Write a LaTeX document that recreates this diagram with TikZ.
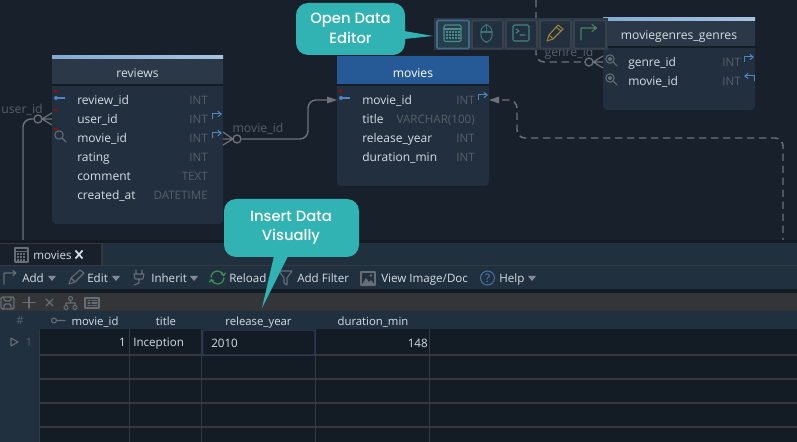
\documentclass[tikz,border=0pt]{standalone}
\usepackage{fontspec}
\setmainfont{Open Sans}
\newfontfamily\callfont{Poppins Medium}
\usetikzlibrary{arrows.meta,calc}
\definecolor{bgc}{HTML}{18212B}
\definecolor{panel}{HTML}{21303F}
\definecolor{body}{HTML}{212F3F}
\definecolor{headc}{HTML}{2B3847}
\definecolor{blueh}{HTML}{255A96}
\definecolor{txt}{HTML}{D5DEE6}
\definecolor{dim}{HTML}{565F68}
\definecolor{conn}{HTML}{6A7178}
\definecolor{teal}{HTML}{32B3B3}
\definecolor{gridc}{HTML}{131C25}
\definecolor{gline}{HTML}{33393F}
\definecolor{greybar}{HTML}{333538}
\definecolor{fkblue}{HTML}{4F86C0}
\definecolor{iconc}{HTML}{666D74}
\definecolor{tbar}{HTML}{2A3A4B}
\definecolor{btn}{HTML}{212F3E}
\definecolor{btne}{HTML}{3A4148}
\definecolor{calc}{HTML}{4F8A8B}
\definecolor{mousec}{HTML}{3B7374}
\definecolor{termc}{HTML}{45857D}
\definecolor{penc}{HTML}{9A8433}
\definecolor{arrc}{HTML}{4F7F5A}
\definecolor{relc}{HTML}{3F8F4F}
\definecolor{selc}{HTML}{2E3A58}
\tikzset{x=0.75pt,y=-0.75pt,
 lbl/.style={inner sep=0pt,font=\fontsize{8.7}{10}\selectfont,text height=8.8pt,text depth=2pt},
 fld/.style={lbl,anchor=west,text=txt,font=\fontsize{9}{10}\selectfont},
 typ/.style={lbl,anchor=east,text=dim},
 tool/.style={lbl,anchor=west,text=txt},
 hdr/.style={lbl,anchor=center,text=txt,font=\fontsize{9.1}{10}\selectfont},
 ghdr/.style={lbl,anchor=center,text=txt,font=\fontsize{8.5}{10}\selectfont},
 rowt/.style={lbl,text=txt},
 connlabel/.style={lbl,text=dim,font=\fontsize{9.2}{10}\selectfont},
 connline/.style={draw=conn,line width=1.1pt,rounded corners=6pt},
 dashline/.style={connline,dash pattern=on 5.5pt off 3.5pt},
 crow/.style={draw=conn,line width=0.9pt},
 cardc/.style={circle,draw=conn,line width=1pt,inner sep=0pt,minimum size=6pt,fill=bgc},
 call/.style={fill=teal,rounded corners=9pt},
 calltext/.style={inner sep=0pt,align=center,text=white,font=\callfont\fontsize{11.1}{14.5}\selectfont},
 ic/.style={draw=iconc,line width=0.8pt,line cap=round,line join=round},
 fk/.style={draw=fkblue,line width=0.75pt,-{Straight Barb[length=2.5pt,width=4pt]}},
 relarc/.style={draw=relc,line width=0.9pt,-{Straight Barb[length=1.8pt,width=3.5pt]}},
 btnbox/.style={fill=btn,draw=btne,line width=1.2pt,rounded corners=1pt},
 gl/.style={draw=gline,line width=0.8pt},
}
\newcommand{\fkicon}[2]{\draw[fk] (#1,#2+5) -- (#1,#2) -- (#1+10,#2);}
\newcommand{\fkback}[2]{\draw[fk] (#1+10,#2+5) -- (#1+10,#2) -- (#1,#2);}
\newcommand{\magic}[2]{\draw[ic] (#1,#2) circle (4.2) (#1+3.2,#2+3.2) -- (#1+7,#2+7);}
\newcommand{\magdot}[2]{\draw[ic] (#1,#2) circle (4.2) (#1+3.2,#2+3.2) -- (#1+7,#2+7);\fill[iconc] (#1,#2) circle (2);}
\newcommand{\pkey}[2]{\fill[fkblue] (#1,#2) circle (2); \draw[fkblue,line width=0.9pt] (#1,#2) -- (#1+9,#2);}
\newcommand{\redm}[2]{\fill[red!70!black] (#1,#2) rectangle (#1+3,#2+2);}
\newcommand{\ddown}[2]{\fill[iconc!80!white] (#1-4,#2-2) -- (#1+4,#2-2) -- (#1,#2+3) -- cycle;}
\begin{document}
\begin{tikzpicture}
\useasboundingbox (0,0) rectangle (797,442);
\clip (0,0) rectangle (797,442);
\fill[bgc] (0,0) rectangle (797,442);

% connectors behind
\node[cardc] (cu) at (38,119) {};
\node[cardc] (cm) at (237,139) {};
\node[cardc] (cg) at (589,62) {};
\coordinate (ub) at (23,245);
\coordinate (ubend) at (23,119);
\coordinate (mb1) at (308,139);
\coordinate (mb2) at (308,100);
\coordinate (mv1) at (330,100);
\coordinate (mv2) at (495,100);
\coordinate (db1) at (517,100);
\coordinate (db2) at (517,138);
\coordinate (db3) at (783,138);
\coordinate (db4) at (783,245);
\coordinate (gb1) at (536,0);
\coordinate (gb2) at (536,62);
\draw[connline] (ub) -- (ubend) -- (cu);
\draw[connline] (cm) -- (mb1) -- (mb2) -- (mv1);
\draw[dashline] (db4) -- (db3) -- (db2) -- (db1) -- (mv2);
\draw[dashline] (gb1) -- (gb2) -- (cg);
\node[connlabel,anchor=center] (lu) at (22,109) {user\_id};
\node[connlabel,anchor=center] (lm) at (258,128) {movie\_id};
\node[connlabel,anchor=center] (lg) at (569,52) {genre\_id};

% reviews
\fill[body,rounded corners=3pt] (52,56) rectangle (223,224);
\fill[headc] (52,59) rectangle (223,84);
\fill[bgc!85!black] (52,84) rectangle (223,86);
\shade[left color=fkblue!70!white,right color=fkblue!50!white] (52,56) rectangle (223,59);
\node[hdr] (rh) at (137.5,73) {reviews};
\node[fld] (r1) at (77,99.5) {review\_id};   \node[typ] (r1t) at (208,99.5) {INT};
\node[fld] (r2) at (77,118.5) {user\_id};    \node[typ] (r2t) at (208,118.5) {INT};
\node[fld] (r3) at (77,137.5) {movie\_id};   \node[typ] (r3t) at (208,137.5) {INT};
\node[fld] (r4) at (77,156.5) {rating};      \node[typ] (r4t) at (208,156.5) {INT};
\node[fld] (r5) at (77,175.5) {comment};     \node[typ] (r5t) at (208,175.5) {TEXT};
\node[fld] (r6) at (77,194.5) {created\_at}; \node[typ] (r6t) at (208,194.5) {DATETIME};
\redm{54}{90}\redm{54}{109}\redm{54}{128}
\pkey{56}{98}
\magic{59}{135}
\fkicon{212}{114}\fkicon{212}{133}
\draw[crow] (52,113) -- (42,119) -- (52,125) (42,119) -- (52,119);
\draw[crow] (223,132) -- (233,139) -- (223,145) (223,139) -- (233,139);

% movies
\fill[body,rounded corners=3pt] (337,56) rectangle (489,186);
\fill[blueh] (337,56) rectangle (489,84);
\fill[bgc!85!black] (337,84) rectangle (489,86);
\node[hdr,text=white] (mh) at (413,73) {movies};
\node[fld] (m1) at (362,99.5) {movie\_id};     \node[typ] (m1t) at (475,99.5) {INT};
\node[fld] (m2) at (362,118.5) {title};        \node[typ] (m2t) at (475,118.5) {VARCHAR(100)};
\node[fld] (m3) at (362,137.5) {release\_year};\node[typ] (m3t) at (475,137.5) {INT};
\node[fld] (m4) at (362,156.5) {duration\_min};\node[typ] (m4t) at (475,156.5) {INT};
\redm{339}{90}
\pkey{341}{98}
\fkicon{478}{95}
\fill[conn] (337,100) -- (327,96.5) -- (327,103.5) -- cycle;
\fill[conn] (489,100) -- (499,96.5) -- (499,103.5) -- cycle;

% moviegenres_genres
\fill[body,rounded corners=3pt] (603,18) rectangle (755,110);
\fill[headc] (603,21) rectangle (755,46);
\fill[bgc!85!black] (603,46) rectangle (755,48);
\shade[left color=fkblue!70!white,right color=fkblue!50!white] (603,18) rectangle (755,21);
\node[hdr] (gh) at (679,35) {moviegenres\_genres};
\node[fld] (g1) at (628,61.5) {genre\_id}; \node[typ] (g1t) at (741,61.5) {INT};
\node[fld] (g2) at (628,80.5) {movie\_id}; \node[typ] (g2t) at (741,80.5) {INT};
\magdot{610}{59}\magdot{610}{78}
\fkicon{744}{57}\fkback{744}{76}
\draw[crow] (603,56) -- (593,62) -- (603,68) (593,62) -- (603,62);

% action bar
\fill[tbar] (434,18) rectangle (608,50);
\draw[btnbox,draw=fkblue!55!btne,fill=btn!88!teal] (437,20.5) rectangle (469,48.5);
\draw[btnbox] (472,20.5) rectangle (503,48.5);
\draw[btnbox] (506,20.5) rectangle (537,48.5);
\draw[btnbox] (540,20.5) rectangle (571,48.5);
\draw[btnbox] (574,20.5) rectangle (606,48.5);
% calendar
\begin{scope}[ic,draw=calc]
\draw[rounded corners=1pt] (444,25) rectangle (461,41.5);
\draw (444,29) -- (461,29);
\foreach \xx in {447,450,453,456,459}{\foreach \yy in {32,35,38}{\fill[calc] (\xx-.7,\yy-.7) rectangle (\xx+.7,\yy+.7);}}
\end{scope}
% mouse
\begin{scope}[ic,draw=mousec]
\draw[rounded corners=5pt] (481,25) rectangle (492,42);
\draw (481,32) -- (492,32) (486.5,25) -- (486.5,32);
\end{scope}
% terminal
\begin{scope}[ic,draw=termc]
\draw[rounded corners=1pt] (513,25) rectangle (529,41);
\draw (516,29) -- (519,31) -- (516,33) (520,35) -- (525,35);
\end{scope}
% pencil
\begin{scope}[ic,draw=penc]
\draw (547,41) -- (549,35) -- (558,25) -- (563,29) -- (553,39) -- cycle;
\draw (549,35) -- (553,39) (556,27) -- (561,31);
\end{scope}
% arrow
\draw[ic,draw=arrc,line width=0.9pt] (581,40) -- (581,28) -- (596,28) (592,24.5) -- (596.5,28) -- (592,31.5);

% bottom panel
\fill[bgc!80!black] (0,240) rectangle (797,243);
\fill[panel] (0,243) rectangle (797,289);
\fill[bgc] (0,243) rectangle (102,265);
\draw[gl] (102,243) -- (102,265);
\draw[gl] (0,265.5) -- (797,265.5);
\draw[gl] (0,243.2) -- (102,243.2);
\fill[bgc!80!black] (0,289) rectangle (797,293);
\fill[greybar] (0,293) rectangle (797,311);
\fill[panel] (0,311) rectangle (797,329);
\fill[gridc] (40,329) rectangle (797,442);
\fill[panel] (0,329) rectangle (40,442);
% tab
\draw[ic] (15,248) rectangle (28,262) (15,251.5) -- (28,251.5);
\foreach \xx in {18,21,24}{\foreach \yy in {254,257,260}{\fill[iconc] (\xx-.6,\yy-.6) rectangle (\xx+.6,\yy+.6);}}
\node[tool] (tabm) at (33,255) {movies};
\draw[draw=txt,line width=1.3pt] (75.5,250.5) -- (82.5,258.5) (82.5,250.5) -- (75.5,258.5);
% toolbar
\draw[ic] (4,284) -- (4,273) -- (16,273) (13,270.5) -- (16,273) -- (13,275.5);
\node[tool] (ta) at (22,278) {Add}; \ddown{52}{278}
\draw[ic] (69,284) -- (71,278) -- (80,270) -- (84,273) -- (75,282) -- cycle (71,278) -- (75,282);
\node[tool] (te) at (87,278) {Edit}; \ddown{116}{278}
\draw[ic] (136,270) -- (136,274) (142,270) -- (142,274) (134,274) -- (144,274) -- (143,279) -- (135,279) -- cycle (139,279) -- (139,283) -- (134,285);
\node[tool] (ti) at (151,278) {Inherit}; \ddown{194}{278}
\draw[relarc] (211,277.5) arc (180:350:6.5);
\draw[relarc] (224,277.5) arc (0:170:6.5);
\node[tool] (tr) at (229,278) {Reload};
\draw[ic] (279,271) -- (292,271) -- (287,278) -- (287,285) -- (284,283) -- (284,278) -- cycle;
\node[tool] (tf) at (297,278) {Add Filter};
\draw[ic] (361,272) rectangle (375,285);
\fill[iconc] (362,284.5) -- (366,278) -- (369,282) -- (371,280) -- (374.5,284.5) -- cycle;
\fill[iconc] (371,275.5) circle (1.3);
\node[tool] (tv) at (381,278) {View Image/Doc};
\draw[draw=fkblue!85!black,line width=0.8pt] (487.5,278) circle (7);
\node[lbl,text=fkblue,anchor=center] (tq) at (487.5,278) {?};
\node[tool] (th) at (499,278) {Help}; \ddown{532}{278}
% grey bar icons
\draw[ic,line width=1.1pt,rounded corners=1pt] (1,297) rectangle (14,309) (4,297) -- (4,301) -- (11,301) -- (11,297) (4,309) -- (4,304) -- (11,304) -- (11,309);
\draw[ic,line width=0.9pt] (29,297) -- (29,308) (23,302.5) -- (35,302.5);
\draw[ic] (46,299) -- (53,306) (53,299) -- (46,306);
\draw[ic] (70.5,298.5) circle (2) (66,307.5) circle (2) (75,307.5) circle (2) (70.5,300.5) -- (70.5,303) (66,305.5) -- (66,303) -- (75,303) -- (75,305.5);
\draw[ic] (85,298) rectangle (99,308) (88,300.5) -- (90,300.5) (92,300.5) -- (97,300.5) (88,303) -- (90,303) (92,303) -- (97,303) (88,305.5) -- (90,305.5) (92,305.5) -- (97,305.5);
% header
\node[ghdr,text=dim] (hn) at (20,320) {\#};
\draw[ic] (54,320.5) circle (2.5) (56.5,320.5) -- (65,320.5);
\node[ghdr] (h1) at (95,320.5) {movie\_id};
\node[ghdr] (h2) at (166,320.5) {title};
\node[ghdr] (h3) at (258.5,320.5) {release\_year};
\node[ghdr] (h4) at (373,320.5) {duration\_min};
% grid
\foreach \yy in {355,379,403,427}{\draw[gl] (40,\yy) -- (797,\yy);}
\foreach \xx in {39.5,129.5,201.5,315.5,429.5}{\draw[gl] (\xx,329) -- (\xx,442);}
\draw[draw=selc,line width=0.9pt,fill=gridc,rounded corners=1pt] (202.5,330) rectangle (315,355);
\draw[ic] (11,338) -- (18,342) -- (11,346) -- cycle;
\node[rowt,text=dim,anchor=center] (rn) at (29,342) {1};
\node[rowt,anchor=east] (c1) at (126,342) {1};
\node[rowt,anchor=west] (c2) at (133,342) {Inception};
\node[rowt,anchor=west] (c3) at (211,342.5) {2010};
\node[rowt,anchor=east] (c4) at (428,342.5) {148};

% callouts
\fill[teal] (404,31) -- (433,36) -- (404,39) -- cycle;
\fill[call] (296,3) rectangle (405,55);
\node[calltext] (co) at (350.5,28.5) {Open Data\\Editor};
\fill[teal] (274,256) -- (262,308) -- (288,256) -- cycle;
\fill[call] (224,199) rectangle (359,257);
\node[calltext] (ci) at (291,228) {Insert Data\\Visually};
\end{tikzpicture}
\end{document}
